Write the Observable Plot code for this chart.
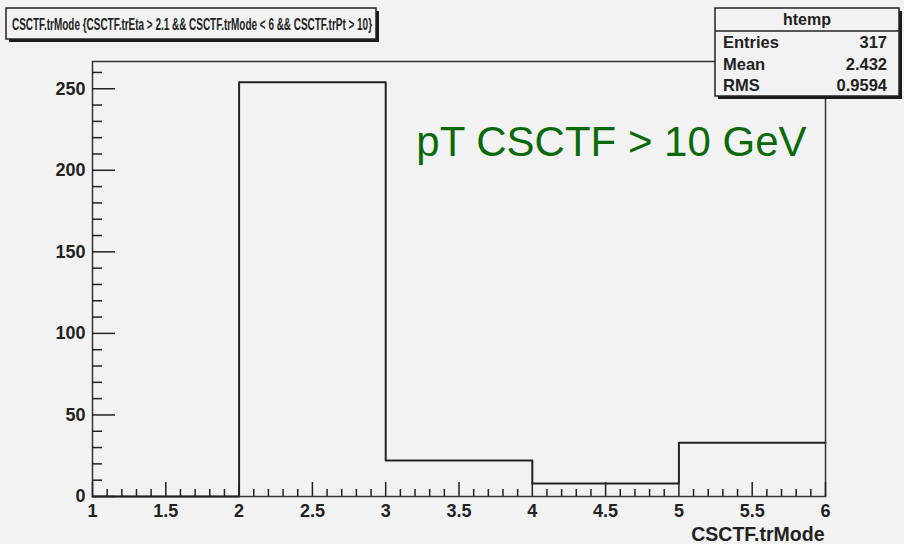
<!DOCTYPE html>
<html>
<head>
<meta charset="utf-8">
<script src="https://cdn.jsdelivr.net/npm/d3@7"></script>
<script src="https://cdn.jsdelivr.net/npm/@observablehq/plot@0.6"></script>
<style>
  html, body { margin: 0; padding: 0; background: #f2f2f2; }
  #chart svg { display: block; background: #f2f2f2; }
</style>
</head>
<body>
<div id="chart"></div>
<script>
// ---- data ----
const binEdges = [1, 2, 3, 4, 5, 6];
const binCounts = [0, 254, 22, 8, 33];
const xTickLabels = [1, 1.5, 2, 2.5, 3, 3.5, 4, 4.5, 5, 5.5, 6];
const yTickLabels = [0, 50, 100, 150, 200, 250];
const titleText = "CSCTF.trMode {CSCTF.trEta > 2.1 && CSCTF.trMode < 6 && CSCTF.trPt > 10}";
const xTitle = "CSCTF.trMode";
const annotation = "pT CSCTF > 10 GeV";
const statsName = "htemp";
const statsLabels = ["Entries", "Mean", "RMS"];
const statsValues = ["317", "2.432", "0.9594"];

// ---- layout ----
const W = 904, H = 544;
const mL = 92, mR = 79, mT = 61, mB = 48;
const plotW = W - mL - mR, plotH = H - mT - mB;
const yMax = d3.max(binCounts) * 1.05;
const FONT = "'Liberation Sans', Arial, Helvetica, sans-serif";
const ink = "#222";

const stepData = binEdges.map((e, i) => ({x: e, y: binCounts[Math.min(i, binCounts.length - 1)]}));
const xMinor = d3.range(10, 61).map(v => v / 10).filter(v => !xTickLabels.some(t => Math.abs(t - v) < 1e-9));
const yMinor = d3.range(0, 261, 10).filter(v => !yTickLabels.includes(v));

const chart = Plot.plot({
  width: W, height: H,
  marginLeft: mL, marginRight: mR, marginTop: mT, marginBottom: mB,
  style: {background: "#f2f2f2", fontFamily: FONT},
  x: {domain: [1, 6]},
  y: {domain: [0, yMax]},
  marks: [
    Plot.frame({stroke: "#333", strokeWidth: 1.5}),
    Plot.tickX(xMinor, {x: d => d, insetTop: plotH - 7, stroke: ink, strokeWidth: 1.5}),
    Plot.tickX(xTickLabels, {x: d => d, insetTop: plotH - 14, stroke: ink, strokeWidth: 1.5}),
    Plot.tickY(yMinor, {y: d => d, insetRight: plotW - 10, stroke: ink, strokeWidth: 1.5}),
    Plot.tickY(yTickLabels, {y: d => d, insetRight: plotW - 23, stroke: ink, strokeWidth: 1.5}),
    Plot.axisX({ticks: xTickLabels, tickSize: 0, tickPadding: 8, fontSize: 18, fontWeight: "bold", fill: ink, tickFormat: d => String(d), label: null}),
    Plot.axisY({ticks: yTickLabels, tickSize: 0, tickPadding: 7, fontSize: 18, fontWeight: "bold", fill: ink, tickFormat: d => String(d), label: null}),
    Plot.line(stepData, {x: "x", y: "y", curve: "step-after", stroke: ink, strokeWidth: 2}),
    Plot.text([annotation], {frameAnchor: "top-right", dx: -19, dy: 94, lineAnchor: "bottom", textAnchor: "end",
      fill: "#0a6a0a", fontSize: 42, fontFamily: FONT}),
    Plot.text([xTitle], {frameAnchor: "bottom-right", dx: -1, dy: 44, lineAnchor: "bottom", textAnchor: "end",
      fill: ink, fontSize: 19.5, fontWeight: "bold", fontFamily: FONT})
  ]
});

document.getElementById("chart").appendChild(chart);

// ---- overlay boxes (title pave and stats box) ----
const svg = d3.select(chart);
function pave(g, x, y, w, h) {
  g.append("rect").attr("x", x + 3).attr("y", y + 3).attr("width", w).attr("height", h).attr("fill", "#1a1a1a");
  g.append("rect").attr("x", x).attr("y", y).attr("width", w).attr("height", h)
    .attr("fill", "#f2f2f2").attr("stroke", ink).attr("stroke-width", 1.5);
}
const tg = svg.append("g").attr("text-anchor", "start");
pave(tg, 6, 8, 370, 31);
tg.append("text").attr("x", 12).attr("y", 30).attr("text-anchor", "start").attr("font-family", FONT).attr("font-weight", "bold")
  .attr("font-size", 16).attr("fill", ink).attr("textLength", 360).attr("lengthAdjust", "spacingAndGlyphs")
  .text(titleText);

const sg = svg.append("g").attr("text-anchor", "start");
pave(sg, 715, 8, 184, 88);
sg.append("line").attr("x1", 715).attr("x2", 899).attr("y1", 31).attr("y2", 31).attr("stroke", ink).attr("stroke-width", 1.5);
sg.append("text").attr("x", 807).attr("y", 25).attr("text-anchor", "middle").attr("font-family", FONT)
  .attr("font-weight", "bold").attr("font-size", 16).attr("fill", ink).text(statsName);
statsLabels.forEach((lab, i) => {
  const yy = 48 + i * 21.5;
  sg.append("text").attr("x", 723).attr("y", yy).attr("text-anchor", "start").attr("font-family", FONT).attr("font-weight", "bold")
    .attr("font-size", 16.5).attr("fill", ink).text(lab);
  sg.append("text").attr("x", 887).attr("y", yy).attr("text-anchor", "end").attr("font-family", FONT)
    .attr("font-weight", "bold").attr("font-size", 16.5).attr("fill", ink).text(statsValues[i]);
});
</script>
</body>
</html>
